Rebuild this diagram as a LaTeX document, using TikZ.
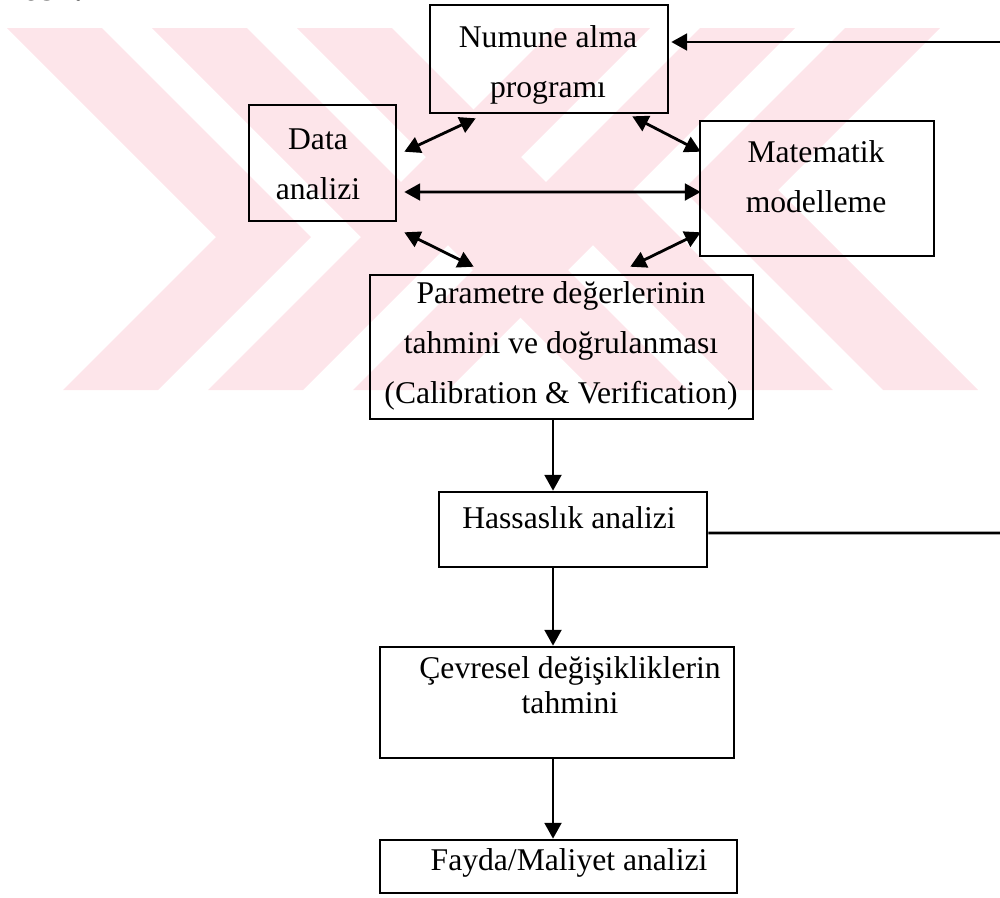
\documentclass[tikz,border=0pt]{standalone}
\usepackage{fontspec}
\setmainfont{Liberation Serif}
\usetikzlibrary{arrows.meta}

\definecolor{filigran}{RGB}{253,229,234}
\tikzset{
  kutu/.style={draw, line width=1.5pt, inner sep=0pt},
  yazi/.style={align=center, inner sep=0pt, font=\fontsize{18}{28.5}\selectfont},
  ok/.style={line width=1.6pt, -{Triangle[length=9pt,width=9.5pt]}},
  ciftok/.style={line width=1.6pt, {Triangle[length=9pt,width=9.5pt]}-{Triangle[length=9pt,width=9.5pt]}},
  hat/.style={line width=1.6pt}
}

\begin{document}
\begin{tikzpicture}[x=0.02cm,y=-0.02cm]
\useasboundingbox (0,0) rectangle (1000,897);

% filigran
\begin{scope}
\clip (0,28) rectangle (1000,390);
\foreach \a in {7,152,297}
  \fill[filigran] (\a,28) -- ++(209,209) -- ++(-153,153) -- ++(95,0) -- ++(153,-153) -- ++(-209,-209) -- cycle;
\foreach \b in {940,795,650}
  \fill[filigran] (\b,28) -- ++(-162,162) -- ++(200,200) -- ++(-95,0) -- ++(-200,-200) -- ++(162,-162) -- cycle;
\end{scope}

\node[anchor=base west, inner sep=0pt, font=\fontsize{24}{24}\selectfont\bfseries] (tez) at (22,0) {tez.};

\node[kutu, minimum width=4.76cm, minimum height=2.16cm] (numune) at (549,59) {};
\node[kutu, minimum width=2.94cm, minimum height=2.32cm] (veri) at (322.5,163) {};
\node[kutu, minimum width=4.68cm, minimum height=2.70cm] (model) at (817,188.5) {};
\node[kutu, minimum width=7.66cm, minimum height=2.88cm] (param) at (561.5,347) {};
\node[kutu, minimum width=5.36cm, minimum height=1.50cm] (hassas) at (573,529.5) {};
\node[kutu, minimum width=7.08cm, minimum height=2.22cm] (cevre) at (557,702.5) {};
\node[kutu, minimum width=7.14cm, minimum height=1.06cm] (fayda) at (558.5,866.5) {};

\node[yazi] (numune-y) at (548,65) {Numune alma\\programı};
\node[yazi] (veri-y) at (318,164) {Data\\analizi};
\node[yazi] (model-y) at (816,177) {Matematik\\modelleme};
\node[yazi] (param-y) at (561,346) {Parametre değerlerinin\\tahmini ve doğrulanması\\(Calibration \& Verification)};
\node[yazi] (hassas-y) at (569,518) {Hassaslık analizi};
\node[yazi, font=\fontsize{18}{20}\selectfont] (cevre-y) at (570,685) {Çevresel değişikliklerin\\tahmini};
\node[yazi] (fayda-y) at (569,863) {Fayda/Maliyet analizi};

\draw[ciftok] ([shift={(47,4)}]numune.south west) -- ([shift={(7,48)}]veri.north east);
\draw[ciftok] ([shift={(-37,2)}]numune.south east) -- ([shift={(2,32)}]model.north west);
\draw[ciftok] ([shift={(7,29)}]veri.east) -- ([shift={(2,3.5)}]model.west);
\draw[ciftok] ([shift={(7,10)}]veri.south east) -- ([shift={(105,-7)}]param.north west);
\draw[ciftok] ([shift={(2,-25)}]model.south west) -- ([shift={(-124,-7)}]param.north east);

\draw[ok] ([shift={(-8.5,0)}]param.south) -- ([shift={(-20,0)}]hassas.north);
\draw[ok] ([shift={(-20,0)}]hassas.south) -- ([shift={(-4,0)}]cevre.north);
\draw[ok] ([shift={(-4,0)}]cevre.south) -- ([shift={(-5.5,0)}]fayda.north);

\coordinate (sagust) at (1000,42);
\coordinate (sagalt) at (1000,533);
\draw[ok] (sagust) -- ([shift={(2,-17)}]numune.east);
\draw[hat] ([shift={(0,3.5)}]hassas.east) -- (sagalt);
\end{tikzpicture}
\end{document}
